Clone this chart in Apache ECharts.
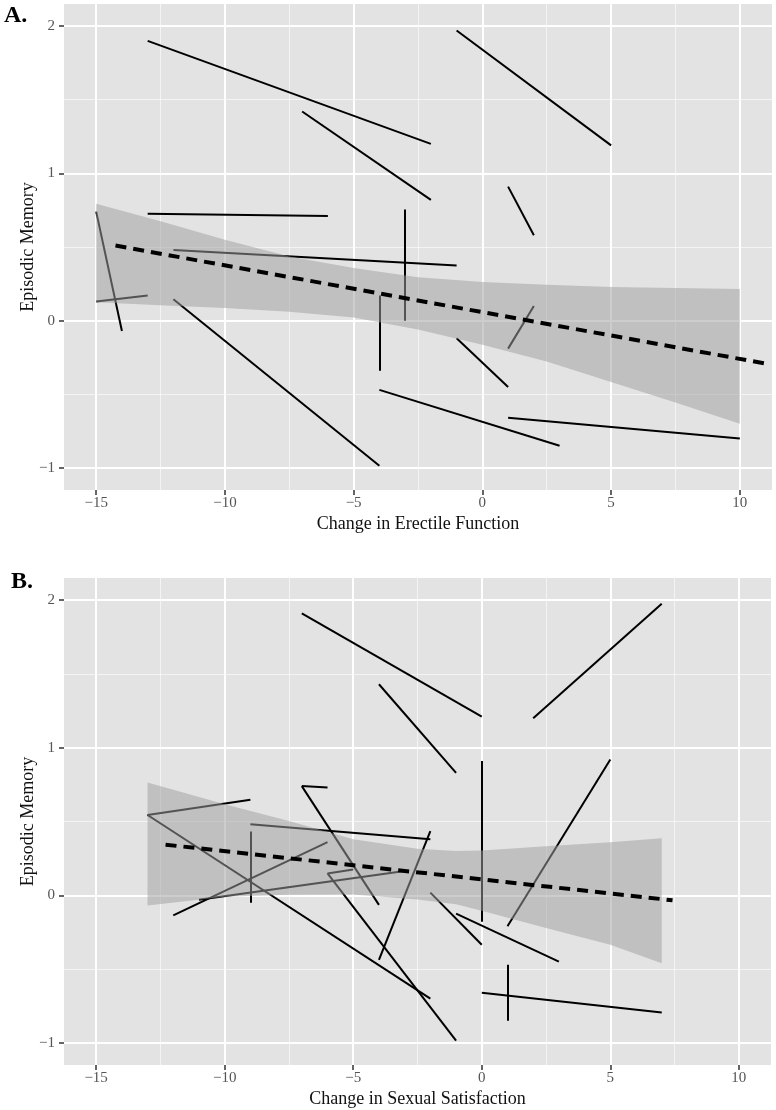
<!DOCTYPE html>
<html>
<head>
<meta charset="utf-8">
<script src="https://cdn.jsdelivr.net/npm/echarts@6/dist/echarts.min.js"></script>
<style>
html,body{margin:0;padding:0;background:#fff;}
#chart{width:776px;height:1110px;}
</style>
</head>
<body>
<div id="chart"></div>
<script>
// ---------- data ----------
const xTicks = [-15, -10, -5, 0, 5, 10];
const yTicks = [-1, 0, 1, 2];

// Panel A: individual change segments [x1, y1, x2, y2]
const segmentsA = [
  [-13, 1.90, -2, 1.20],
  [-1, 1.97, 5, 1.19],
  [-7, 1.42, -2, 0.82],
  [1, 0.91, 2, 0.58],
  [-13, 0.725, -6, 0.71],
  [-12, 0.48, -1, 0.375],
  [-3, 0.755, -3, 0.0],
  [-4, 0.17, -4, -0.34],
  [-15, 0.74, -14, -0.07],
  [-15, 0.13, -13, 0.17],
  [-12, 0.145, -4, -0.985],
  [-4, -0.47, 3, -0.85],
  [-1, -0.12, 1, -0.45],
  [1, -0.19, 2, 0.10],
  [1, -0.66, 10, -0.80]
];
const fitAX = [-14.25, 10.95];
const fitAY = [0.51, -0.29];
const ribbonAX = [-15, -12.5, -10, -7.5, -5, -2.5, 0, 2.5, 5, 7.5, 10];
const ribbonAUpper = [0.794, 0.674, 0.55, 0.436, 0.358, 0.295, 0.262, 0.243, 0.229, 0.221, 0.215];
const ribbonALower = [0.124, 0.105, 0.086, 0.06, 0.022, -0.06, -0.163, -0.278, -0.417, -0.556, -0.70];

// Panel B
const segmentsB = [
  [-7, 1.91, 0, 1.21],
  [2, 1.20, 7, 1.975],
  [-4, 1.43, -1, 0.83],
  [0, 0.91, 0, -0.18],
  [1, -0.21, 5, 0.92],
  [-7, 0.74, -6, 0.73],
  [-7, 0.74, -4, -0.065],
  [-13, 0.544, -9, 0.648],
  [-13, 0.544, -2, -0.70],
  [-9, 0.482, -2, 0.379],
  [-9, 0.433, -9, -0.05],
  [-12, -0.136, -6, 0.36],
  [-11, -0.03, -3, 0.165],
  [-6, 0.148, -5, 0.175],
  [-6, 0.148, -1, -0.985],
  [-4, -0.437, -2, 0.435],
  [-2, 0.018, 0, -0.335],
  [-1, -0.124, 3, -0.45],
  [0, -0.66, 7, -0.795],
  [1, -0.471, 1, -0.85]
];
const fitBX = [-12.3, 7.42];
const fitBY = [0.343, -0.034];
const ribbonBX = [-13, -10, -7.5, -5, -2.5, -1, 0, 2.5, 5, 7];
const ribbonBUpper = [0.765, 0.617, 0.503, 0.379, 0.316, 0.30, 0.304, 0.333, 0.36, 0.386];
const ribbonBLower = [-0.07, -0.01, 0.003, 0.005, -0.028, -0.06, -0.105, -0.222, -0.335, -0.46];

const xTitles = ['Change in Erectile Function', 'Change in Sexual Satisfaction'];
const yTitle = 'Episodic Memory';
const panelTags = ['A.', 'B.'];

// ---------- styling / helpers ----------
const FONT = 'Liberation Serif';
const fmt = v => String(v).replace('-', '\u2212');

function xAxisCfg(gi) {
  return {
    type: 'value', gridIndex: gi, min: -16.25, max: 11.25,
    minInterval: 5, maxInterval: 5,
    name: xTitles[gi], nameLocation: 'middle', nameGap: 25, nameMoveOverlap: false,
    nameTextStyle: { fontFamily: FONT, fontSize: 18, color: '#111' },
    axisLine: { show: true, onZero: false, lineStyle: { color: 'rgba(0,0,0,0)', width: 0 } },
    axisTick: { show: true, inside: false, length: 5, customValues: xTicks, lineStyle: { color: '#333', width: 1.5 } },
    axisLabel: { customValues: xTicks, fontFamily: FONT, fontSize: 15, color: '#555', margin: 6, formatter: fmt },
    splitLine: { show: true, lineStyle: { color: '#ffffff', width: 2 } },
    minorTick: { show: false, splitNumber: 2 },
    minorSplitLine: { show: true, lineStyle: { color: 'rgba(255,255,255,0.6)', width: 1 } }
  };
}
function yAxisCfg(gi) {
  return {
    type: 'value', gridIndex: gi, min: -1.15, max: 2.15,
    minInterval: 1, maxInterval: 1,
    name: yTitle, nameLocation: 'middle', nameGap: 27, nameRotate: 90, nameMoveOverlap: false,
    nameTextStyle: { fontFamily: FONT, fontSize: 18, color: '#111' },
    axisLine: { show: true, onZero: false, lineStyle: { color: 'rgba(0,0,0,0)', width: 0 } },
    axisTick: { show: true, inside: false, length: 5, customValues: yTicks, lineStyle: { color: '#333', width: 1.5 } },
    axisLabel: { customValues: yTicks, fontFamily: FONT, fontSize: 15, color: '#555', margin: 9, formatter: fmt },
    splitLine: { show: true, lineStyle: { color: '#ffffff', width: 2 } },
    minorTick: { show: false, splitNumber: 2 },
    minorSplitLine: { show: true, lineStyle: { color: 'rgba(255,255,255,0.6)', width: 1 } }
  };
}

function segSeries(gi, segs) {
  return {
    type: 'lines', coordinateSystem: 'cartesian2d', xAxisIndex: gi, yAxisIndex: gi,
    polyline: false, silent: true, z: 2,
    lineStyle: { color: '#000', width: 2, opacity: 1 },
    data: segs.map(s => ({ coords: [[s[0], s[1]], [s[2], s[3]]] }))
  };
}
function ribbonSeries(gi, xs, lo, up) {
  return {
    type: 'custom', xAxisIndex: gi, yAxisIndex: gi, silent: true, z: 3,
    data: xs.map((x, i) => [x, lo[i], up[i]]),
    encode: { x: 0, y: [1, 2] },
    renderItem: function (params, api) {
      if (params.dataIndex !== 0) return null;
      const pts = [];
      for (let i = 0; i < xs.length; i++) pts.push(api.coord([xs[i], up[i]]));
      for (let i = xs.length - 1; i >= 0; i--) pts.push(api.coord([xs[i], lo[i]]));
      return { type: 'polygon', shape: { points: pts }, style: { fill: 'rgba(160,160,160,0.52)' } };
    }
  };
}
function fitSeries(gi, xs, ys) {
  return {
    type: 'line', xAxisIndex: gi, yAxisIndex: gi, silent: true, z: 4,
    symbol: 'none',
    data: xs.map((x, i) => [x, ys[i]]),
    lineStyle: { color: '#000', width: 4, type: [11, 7], cap: 'butt' }
  };
}

const chart = echarts.init(document.getElementById('chart'), null, { renderer: 'canvas' });
chart.setOption({
  animation: false,
  backgroundColor: '#ffffff',
  grid: [
    { left: 64, top: 4, width: 708, height: 486, show: true, backgroundColor: '#E3E3E4', borderWidth: 0, containLabel: false },
    { left: 64, top: 578, width: 707, height: 487, show: true, backgroundColor: '#E3E3E4', borderWidth: 0, containLabel: false }
  ],
  xAxis: [xAxisCfg(0), xAxisCfg(1)],
  yAxis: [yAxisCfg(0), yAxisCfg(1)],
  graphic: [
    { type: 'text', left: 4, top: 4, style: { text: panelTags[0], font: 'bold 24px "Liberation Serif"', fill: '#000' } },
    { type: 'text', left: 11, top: 570, style: { text: panelTags[1], font: 'bold 24px "Liberation Serif"', fill: '#000' } }
  ],
  series: [
    segSeries(0, segmentsA),
    ribbonSeries(0, ribbonAX, ribbonALower, ribbonAUpper),
    fitSeries(0, fitAX, fitAY),
    segSeries(1, segmentsB),
    ribbonSeries(1, ribbonBX, ribbonBLower, ribbonBUpper),
    fitSeries(1, fitBX, fitBY)
  ]
});
</script>
</body>
</html>
